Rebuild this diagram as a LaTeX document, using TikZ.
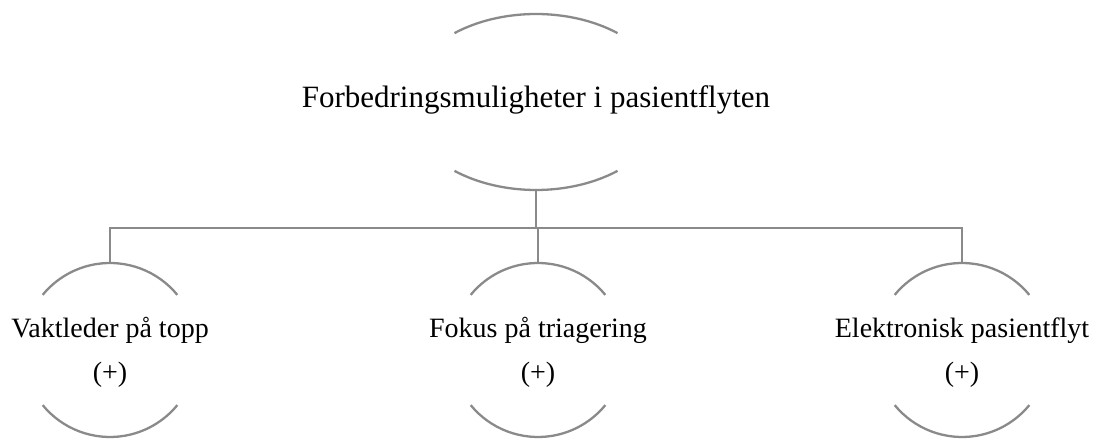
\documentclass[tikz,border=0pt]{standalone}
\usepackage{fontspec}
\setmainfont{Liberation Serif}
\begin{document}
\begin{tikzpicture}[x=1pt,y=1pt,
  arcline/.style={draw=linegray,line width=2.3pt},
  conn/.style={draw=linegray,line width=2.3pt,line join=miter},
  roottext/.style={font=\fontsize{31}{36}\selectfont,inner sep=0pt,anchor=base},
  childtext/.style={font=\fontsize{28}{33}\selectfont,inner sep=0pt,anchor=base}]
\definecolor{linegray}{RGB}{138,138,138}
\useasboundingbox (0,0) rectangle (1095,439);

% top-level node: text between two elliptical arcs
\coordinate (root) at (536,337);
\node[roottext] (rootlabel) at ([yshift=-6pt]root) {Forbedringsmuligheter i pasientflyten};
\draw[arcline] ([shift={(51.5:131 and 88)}]root) arc[start angle=51.5,end angle=128.5,x radius=131,y radius=88];
\draw[arcline] ([shift={(231.5:131 and 88)}]root) arc[start angle=231.5,end angle=308.5,x radius=131,y radius=88];
\coordinate (rootbot) at ([yshift=-88pt]root);

% child nodes: label and (+) between two circular arcs
\foreach \name/\xx/\label in {c1/110/Vaktleder på topp, c2/538/Fokus på triagering, c3/962/Elektronisk pasientflyt}{
  \coordinate (\name) at (\xx,89);
  \node[childtext] (\name label) at ([yshift=12pt]\name) {\label};
  \node[childtext] (\name plus) at ([yshift=-32pt]\name) {(+)};
  \draw[arcline] ([shift={(39.3:87)}]\name) arc[start angle=39.3,end angle=140.7,radius=87];
  \draw[arcline] ([shift={(219.3:87)}]\name) arc[start angle=219.3,end angle=320.7,radius=87];
  \coordinate (\name top) at ([yshift=87pt]\name);
}

% bus connecting the top node to the children
\coordinate (bus) at (536,211);
\draw[conn] (rootbot) -- (rootbot |- bus);
\draw[conn] (c1top) |- (bus) -| (c3top);
\draw[conn] (bus -| c2top) -- (c2top);
\end{tikzpicture}
\end{document}
